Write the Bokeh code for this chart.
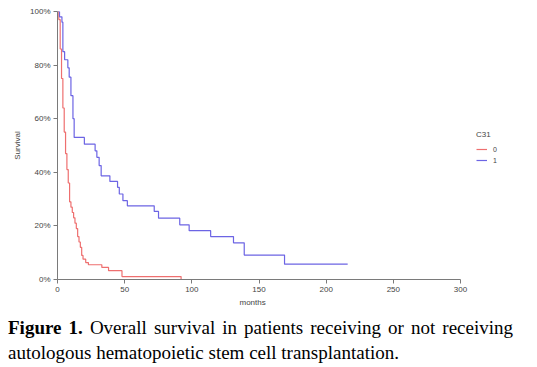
from bokeh.plotting import figure
from bokeh.models import Range1d, NumeralTickFormatter, Legend, LegendItem, Div, FixedTicker, Title
from bokeh.layouts import column
from bokeh.embed import file_html
from bokeh.resources import INLINE

# Group 0 (no transplant) Kaplan-Meier steps: months, survival
times0 = [0, 1, 2, 3, 4, 5, 6, 7, 8, 9, 10, 11, 12, 13, 14, 15, 16, 17, 18, 19, 21, 23, 33, 38, 48, 92]
surv0 = [1.0, 0.97, 0.86, 0.75, 0.64, 0.55, 0.47, 0.41, 0.36, 0.29, 0.27, 0.25, 0.23, 0.21, 0.19, 0.16,
         0.14, 0.12, 0.09, 0.076, 0.063, 0.055, 0.045, 0.033, 0.011, 0.0]

# Group 1 (transplant)
times1 = [0, 1.5, 3.3, 4, 5.3, 7.7, 8.7, 10, 11.5, 12.4, 20, 28, 29.3, 31, 32.5, 39, 44.7, 46, 48.7, 52,
          72, 75.2, 91, 98, 114, 131, 139, 169, 216]
surv1 = [1.0, 0.98, 0.96, 0.85, 0.82, 0.79, 0.755, 0.686, 0.60, 0.53, 0.505, 0.48, 0.456, 0.425, 0.387,
         0.366, 0.344, 0.319, 0.294, 0.275, 0.254, 0.229, 0.204, 0.182, 0.16, 0.137, 0.091, 0.057, 0.057]

group_labels = ["0", "1"]
legend_title = "C31"
x_label = "months"
y_label = "Survival"
x_ticks = [0, 50, 100, 150, 200, 250, 300]
y_ticks = [0, 0.2, 0.4, 0.6, 0.8, 1.0]

RED = "#ee6f6f"
BLUE = "#6c64e4"
AX = "#7a7a7a"
TXT = "#444444"

# frame extends to the right edge so the legend (right of the axis end) is not clipped
p = figure(width=537, height=311, output_backend="svg", toolbar_location=None,
           x_range=Range1d(0, 357.3), y_range=Range1d(0, 1),
           min_border_left=57, min_border_right=0, min_border_top=11, min_border_bottom=32)
p.outline_line_color = None
p.xgrid.visible = False
p.ygrid.visible = False

r0 = p.step(times0, surv0, mode="after", line_color=RED, line_width=1.2)
r1 = p.step(times1, surv1, mode="after", line_color=BLUE, line_width=1.2)

for ax in (p.xaxis[0], p.yaxis[0]):
    ax.axis_line_color = AX
    ax.major_tick_line_color = AX
    ax.minor_tick_line_color = None
    ax.major_tick_out = 4
    ax.major_tick_in = 0
    ax.major_label_text_font = "Liberation Sans"
    ax.major_label_text_font_size = "8px"
    ax.major_label_text_color = TXT
    ax.axis_label_text_font = "Liberation Sans"
    ax.axis_label_text_font_size = "8px"
    ax.axis_label_text_font_style = "normal"
    ax.axis_label_text_color = TXT

p.xaxis.bounds = (0, 300)
p.xaxis.ticker = FixedTicker(ticks=x_ticks)
p.yaxis.ticker = FixedTicker(ticks=y_ticks)
p.yaxis.formatter = NumeralTickFormatter(format="0%")
p.yaxis.axis_label = y_label
p.yaxis.axis_label_standoff = 5
p.xaxis.major_label_standoff = 3
p.yaxis.major_label_standoff = 3

# x-axis title centred under the 0-300 axis span (not the widened frame)
xt = Title(text=x_label, align="left", offset=182, standoff=2,
           text_font="Liberation Sans", text_font_size="8px", text_font_style="normal",
           text_color=TXT)
p.add_layout(xt, "below")

legend = Legend(items=[LegendItem(label=group_labels[0], renderers=[r0]),
                       LegendItem(label=group_labels[1], renderers=[r1])],
                location=(419, 115), title=legend_title)
legend.border_line_color = None
legend.background_fill_alpha = 0
legend.title_text_font = "Liberation Sans"
legend.title_text_font_size = "8px"
legend.title_text_font_style = "normal"
legend.title_text_color = TXT
legend.label_text_font = "Liberation Sans"
legend.label_text_font_size = "7px"
legend.label_text_color = TXT
legend.glyph_width = 11
legend.glyph_height = 8
legend.label_height = 8
legend.spacing = 3
legend.padding = 2
legend.margin = 0
legend.label_standoff = 6
legend.title_standoff = 6
p.add_layout(legend, "center")

caption = Div(text='<div style="font-family: \'Liberation Serif\', \'Times New Roman\', serif; '
                   'font-size: 19px; line-height: 25px; text-align: justify; color: #000; '
                   'padding: 4px 8px 0 8px; width: 521px;">'
                   '<b>Figure 1.</b> Overall survival in patients receiving or not receiving '
                   'autologous hematopoietic stem cell transplantation.</div>',
              width=537, margin=(0, 0, 0, 0))

layout = column(p, caption, spacing=0)
open("out.html", "w").write(file_html(layout, INLINE))
